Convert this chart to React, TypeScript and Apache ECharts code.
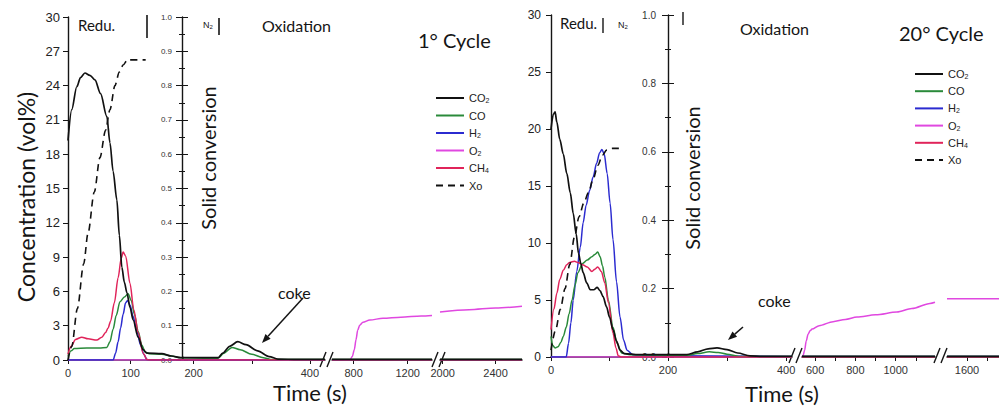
import { useEffect, useRef } from "react";
import * as echarts from "echarts";

type Pt = [number, number];

// ---------------- DATA (time s, concentration vol% / solid conversion) ----------------
// 1st cycle
const c1CO2: Pt[] = [[0,19.2],[6,21.9],[14,23.9],[20,24.7],[27,25.1],[35,24.9],[43,24.5],[52,23.3],[62,21.3],[67,19.0],[72,16.5],[78,14.0],[82,10.9],[86,8.1],[90,6.8],[94,5.9],[99,4.6],[104,3.5],[112,2.0],[120,0.9],[126,0.6],[150,0.55],[165,0.35],[180,0.2],[242,0.2],[250,0.6],[262,1.2],[276,1.6],[290,1.35],[310,0.8],[330,0.3],[345,0.08],[380,0.05],[426,0.05],[640,0.05],[1380,0.05],[1980,0.05],[2600,0.05]];
const c1CO: Pt[] = [[0,0.3],[5,0.8],[10,1.0],[30,1.05],[50,1.05],[62,1.1],[67,1.6],[72,2.7],[77,3.9],[83,5.1],[90,5.5],[96,5.8],[101,5.2],[106,4.0],[112,2.5],[118,1.3],[123,0.7],[130,0.55],[150,0.5],[165,0.35],[180,0.2],[242,0.15],[252,0.6],[266,1.1],[280,0.9],[300,0.5],[320,0.2],[332,0.05],[426,0.05],[640,0.05],[1380,0.05],[1980,0.05],[2600,0.05]];
const c1H2: Pt[] = [[0,0],[72,0],[76,0.6],[80,1.6],[84,2.8],[88,4.0],[92,5.0],[95,5.2],[99,4.8],[104,3.8],[110,2.5],[116,1.3],[121,0.5],[126,0.05],[130,0],[426,0],[640,0],[1380,0],[1980,0],[2600,0]];
const c1O2: Pt[] = [[0,0],[426,0],[640,0],[773,0],[790,0.3],[805,0.9],[818,1.8],[830,2.6],[845,3.05],[869,3.3],[920,3.5],[1017,3.65],[1150,3.75],[1300,3.85],[1380,3.9],[1980,4.2],[2200,4.4],[2400,4.55],[2600,4.7]];
const c1CH4: Pt[] = [[0,0.5],[5,1.2],[12,1.8],[22,2.0],[32,1.85],[46,1.75],[54,2.0],[60,2.4],[64,2.8],[68,3.4],[74,5.0],[80,7.2],[85,8.9],[88,9.45],[92,9.1],[99,6.7],[105,4.4],[112,2.4],[120,0.6],[126,0.05],[130,0],[426,0],[640,0],[1380,0],[1980,0],[2600,0]];
const c1Xo: Pt[] = [[0,0],[6,0.04],[15,0.15],[25,0.28],[32,0.37],[42,0.49],[51,0.59],[60,0.67],[67,0.73],[75,0.8],[82,0.84],[88,0.86],[95,0.875],[124,0.875]];

// 20th cycle
const c20CO2: Pt[] = [[0,20.0],[4,21.3],[7,21.5],[10,20.6],[15,19.1],[21,17.8],[27,16.1],[33,14.4],[38,12.6],[43,10.8],[47,9.1],[51,8.2],[55,7.4],[61,6.5],[67,5.9],[73,5.9],[79,6.1],[84,5.8],[89,5.3],[95,4.4],[100,3.5],[106,2.4],[112,1.4],[118,0.6],[125,0.3],[150,0.2],[232,0.2],[250,0.45],[268,0.72],[283,0.8],[300,0.65],[318,0.35],[339,0.1],[360,0.05],[410,0.05],[535,0.05],[1195,0.05],[1500,0.05],[1760,0.05]];
const c20CO: Pt[] = [[0,1.8],[3,1.0],[7,0.8],[12,0.9],[17,1.3],[21,1.8],[26,2.6],[31,3.8],[36,5.0],[41,6.3],[46,7.4],[54,8.2],[62,8.5],[70,8.8],[75,9.0],[80,9.2],[84,8.8],[88,8.0],[92,7.0],[98,5.0],[106,2.6],[113,1.2],[121,0.35],[135,0.2],[200,0.15],[232,0.15],[250,0.3],[270,0.45],[285,0.4],[300,0.25],[320,0.05],[410,0.05],[535,0.05],[1195,0.05],[1500,0.05],[1760,0.05]];
const c20H2: Pt[] = [[0,0],[26,0],[30,1.2],[34,3.0],[38,5.0],[44,7.5],[50,9.6],[55,11.8],[60,13.3],[66,14.6],[72,15.8],[78,17.0],[83,17.9],[87,18.2],[91,17.8],[96,16.1],[101,13.5],[106,10.3],[112,6.6],[118,3.5],[124,1.5],[130,0.6],[140,0.2],[200,0.1],[410,0.05],[535,0.05],[1195,0.05],[1500,0.05],[1760,0.05]];
const c20O2: Pt[] = [[0,0],[410,0],[535,0],[540,0.1],[548,0.6],[556,1.4],[565,2.0],[575,2.3],[585,2.45],[620,2.75],[689,3.1],[750,3.3],[808,3.5],[900,3.7],[1006,3.95],[1080,4.25],[1170,4.7],[1195,4.8],[1500,5.1],[1760,5.1]];
const c20CH4: Pt[] = [[0,2.4],[5,4.2],[10,5.6],[15,6.8],[21,7.6],[27,8.1],[32,8.3],[40,8.4],[46,8.3],[54,8.1],[62,7.9],[70,7.5],[75,7.7],[80,7.9],[86,7.5],[92,6.5],[98,4.8],[106,2.1],[111,0.8],[115,0.1],[120,0],[410,0],[535,0],[1195,0],[1500,0],[1760,0]];
const c20Xo: Pt[] = [[0,0.02],[8,0.08],[16,0.14],[24,0.2],[32,0.27],[40,0.35],[48,0.41],[56,0.45],[64,0.48],[72,0.52],[80,0.56],[88,0.59],[95,0.605],[105,0.61],[118,0.61]];

const legendNames = ["CO2", "CO", "H2", "O2", "CH4", "Xo"];

// axis ranges and tick labels (broken time axis)
const c1TimeRanges: Pt[] = [[0, 182], [180, 426], [640, 1380], [1980, 2600]];
const c1TimeLabels = [[0, 100], [200, 400], [800, 1200], [2000, 2400]];
const c1TimeTicks = [[0, 100], [200, 300, 400], [800, 1200], [2000, 2400]];
const c20TimeRanges: Pt[] = [[0, 200], [200, 410], [535, 1195], [1500, 1760]];
const c20TimeLabels = [[0], [200, 400], [600, 800, 1000], [1600]];
const c20TimeTicks = [[0, 100], [200, 300, 400], [600, 700, 800, 900, 1000, 1100], [1600, 1700]];
const c1ConcInterval = 3;
const c20ConcInterval = 5;
const c1SolidInterval = 0.1;
const c20SolidInterval = 0.2;

// ---------------- STYLE / LAYOUT ----------------
const SANS = "'Liberation Sans', Arial, sans-serif";
const TITLE = "Lato, 'Open Sans', sans-serif";
const INK = "#151515";
const colors: Record<string, string> = {
  CO2: "#111111", CO: "#2a8a3a", H2: "#2b2bd0", O2: "#e048e0", CH4: "#e0245a", Xo: "#111111",
};
const drawOrder = ["O2", "H2", "CO", "CH4", "CO2"];

const panels = [
  {
    top: 17, height: 343,
    segs: [[68, 114], [182, 143], [332, 100], [440, 82]],
    ranges: c1TimeRanges, labels: c1TimeLabels, ticks: c1TimeTicks,
    concInterval: c1ConcInterval, solidInterval: c1SolidInterval,
    concFont: 13, concMargin: 8, solidFont: 8, solidMargin: 10,
    data: { CO2: c1CO2, CO: c1CO, H2: c1H2, O2: c1O2, CH4: c1CH4 } as Record<string, Pt[]>,
    xo: c1Xo,
  },
  {
    top: 15, height: 342,
    segs: [[551, 117], [668, 124], [802, 133], [947, 52]],
    ranges: c20TimeRanges, labels: c20TimeLabels, ticks: c20TimeTicks,
    concInterval: c20ConcInterval, solidInterval: c20SolidInterval,
    concFont: 12, concMargin: 10, solidFont: 10, solidMargin: 12,
    data: { CO2: c20CO2, CO: c20CO, H2: c20H2, O2: c20O2, CH4: c20CH4 } as Record<string, Pt[]>,
    xo: c20Xo,
  },
];

// points of a series that fall in [lo, hi], plus the neighbour on each side (clipped by the grid)
function clipSeg(data: Pt[], lo: number, hi: number): Pt[] {
  let a = 0;
  for (let i = 0; i < data.length; i++) if (data[i][0] <= lo) a = i;
  let b = data.length - 1;
  for (let i = data.length - 1; i >= 0; i--) if (data[i][0] >= hi) b = i;
  return data.slice(a, b + 1);
}

const legendText: Record<string, string> = {
  CO2: "CO{s|2}", CO: "CO", H2: "H{s|2}", O2: "O{s|2}", CH4: "CH{s|4}", Xo: "Xo",
};

function arrow(x1: number, y1: number, x2: number, y2: number) {
  const dx = x2 - x1, dy = y2 - y1, len = Math.hypot(dx, dy);
  const ux = dx / len, uy = dy / len;
  const bx = x2 - ux * 9, by = y2 - uy * 9;
  const px = -uy * 3.5, py = ux * 3.5;
  return [
    { type: "line", shape: { x1, y1, x2: bx, y2: by }, style: { stroke: INK, lineWidth: 1.5 } },
    { type: "polygon", shape: { points: [[x2, y2], [bx + px, by + py], [bx - px, by - py]] }, style: { fill: INK } },
  ];
}

function slash(x: number, yb: number) {
  return [0, 7].map((o) => ({
    type: "line",
    shape: { x1: x + o, y1: yb + 7, x2: x + o + 6, y2: yb - 8 },
    style: { stroke: INK, lineWidth: 1.4 },
  }));
}

function txt(text: string, x: number, y: number, size: number, opts: any = {}) {
  return {
    type: "text",
    x, y,
    rotation: opts.rotation || 0,
    style: {
      text,
      fill: INK,
      font: `${size}px ${opts.family || TITLE}`,
      align: opts.align || "left",
      textAlign: opts.align || "left",
      verticalAlign: "middle",
      textVerticalAlign: "middle",
      rich: opts.rich,
    },
  };
}

function buildOption() {
  const grid: any[] = [];
  const xAxis: any[] = [];
  const yAxis: any[] = [];
  const series: any[] = [];

  panels.forEach((pn) => {
    pn.segs.forEach((sg, si) => {
      const gi = grid.length;
      grid.push({ left: sg[0], width: sg[1], top: pn.top, height: pn.height });
      xAxis.push({
        type: "value", gridIndex: gi, min: pn.ranges[si][0], max: pn.ranges[si][1],
        axisLine: { show: true, onZero: false, lineStyle: { color: INK, width: 1.5 } },
        axisTick: { show: true, customValues: pn.ticks[si], length: 4, lineStyle: { color: INK } },
        axisLabel: {
          customValues: pn.labels[si], fontSize: 11, fontFamily: SANS, color: "#333", margin: 7,
          formatter: (v: number) => String(v),
        },
        splitLine: { show: false },
      });
      const yc = yAxis.length;
      yAxis.push({
        type: "value", gridIndex: gi, min: 0, max: 30, interval: pn.concInterval, show: si === 0,
        position: "left",
        axisLine: { show: true, lineStyle: { color: INK, width: 1.4 } },
        axisTick: { show: true, length: 5, lineStyle: { color: INK } },
        axisLabel: { fontSize: pn.concFont, fontFamily: SANS, color: "#222", margin: pn.concMargin },
        splitLine: { show: false },
      });
      let ys = -1;
      if (si <= 1) {
        ys = yAxis.length;
        yAxis.push({
          type: "value", gridIndex: gi, min: 0, max: 1, interval: pn.solidInterval, show: si === 1,
          position: "left",
          axisLine: { show: true, lineStyle: { color: INK, width: 1.4 } },
          axisTick: { show: true, length: 6, lineStyle: { color: INK } },
          minorTick: { show: true, splitNumber: 2, length: 3, lineStyle: { color: INK } },
          axisLabel: {
            fontSize: pn.solidFont, fontFamily: SANS, color: "#333", margin: pn.solidMargin,
            formatter: (v: number) => v.toFixed(1),
          },
          splitLine: { show: false },
        });
        if (si === 1) {
          yAxis.push({
            type: "value", gridIndex: gi, min: 0, max: 1, interval: pn.solidInterval, position: "left",
            axisLine: { show: false },
            axisTick: { show: true, inside: true, length: 6, lineStyle: { color: INK } },
            minorTick: { show: true, splitNumber: 2, length: 3, lineStyle: { color: INK } },
            axisLabel: { show: false },
            splitLine: { show: false },
          });
        }
      }
      drawOrder.forEach((name) => {
        series.push({
          type: "line", name, xAxisIndex: gi, yAxisIndex: yc,
          data: clipSeg(pn.data[name], pn.ranges[si][0], pn.ranges[si][1]),
          symbol: "none", smooth: 0.3, smoothMonotone: "x", silent: true,
          lineStyle: { color: colors[name], width: name === "CO2" ? 1.7 : 1.5 },
          itemStyle: { color: colors[name] },
        });
      });
      if (si === 0) {
        series.push({
          type: "line", name: "Xo", xAxisIndex: gi, yAxisIndex: ys, data: pn.xo,
          symbol: "none", smooth: 0.3, smoothMonotone: "x", silent: true,
          lineStyle: { color: colors.Xo, width: 1.6, type: [7, 5] },
          itemStyle: { color: colors.Xo },
        });
      }
    });
  });

  const legendCommon = {
    orient: "vertical", itemWidth: 28, itemHeight: 10, selectedMode: false,
    data: legendNames,
    itemStyle: { opacity: 0 },
    formatter: (n: string) => legendText[n],
    textStyle: {
      fontFamily: SANS, fontSize: 11, color: "#222", lineHeight: 12,
      rich: { s: { fontFamily: SANS, fontSize: 7, color: "#222", verticalAlign: "bottom", lineHeight: 8 } },
    },
  };

  const sub = { s: { fontFamily: SANS, fontSize: 6, fill: INK, verticalAlign: "bottom", lineHeight: 6 } };

  const graphic: any[] = [
    // left panel annotations
    txt("Redu.", 78, 25, 15),
    { type: "line", shape: { x1: 147, y1: 15, x2: 147, y2: 38 }, style: { stroke: INK, lineWidth: 1.6 } },
    txt("N{s|2}", 203, 25, 9, { family: SANS, rich: sub }),
    { type: "line", shape: { x1: 219, y1: 18, x2: 219, y2: 35 }, style: { stroke: INK, lineWidth: 1.6 } },
    txt("Oxidation", 262, 25, 16),
    txt("1° Cycle", 418, 40, 20),
    txt("coke", 278, 292, 16),
    ...arrow(303, 298, 262, 343),
    txt("Concentration (vol%)", 26, 197, 23, { align: "center", rotation: Math.PI / 2 }),
    txt("Solid conversion", 208, 158, 20, { align: "center", rotation: Math.PI / 2 }),
    txt("Time (s)", 310, 392, 22, { align: "center" }),
    ...slash(320, 360),
    ...slash(432, 360),
    // right panel annotations
    txt("Redu.", 560, 23, 15),
    { type: "line", shape: { x1: 603, y1: 18, x2: 603, y2: 33 }, style: { stroke: INK, lineWidth: 1.4 } },
    txt("N{s|2}", 618, 25, 9, { family: SANS, rich: sub }),
    { type: "line", shape: { x1: 683, y1: 12, x2: 683, y2: 25 }, style: { stroke: INK, lineWidth: 1.4 } },
    txt("Oxidation", 740, 28, 16),
    txt("20° Cycle", 899, 33, 20),
    txt("coke", 758, 300, 16),
    ...arrow(743, 327, 728, 340),
    txt("Solid conversion", 692, 178, 20, { align: "center", rotation: Math.PI / 2 }),
    txt("Time (s)", 782, 393, 22, { align: "center" }),
    ...slash(789, 356),
    ...slash(934, 356),
  ];

  return {
    animation: false,
    backgroundColor: "#ffffff",
    grid, xAxis, yAxis, series,
    legend: [
      { ...legendCommon, left: 430, top: 87, itemGap: 5.5 },
      { ...legendCommon, left: 909, top: 63, itemGap: 5.2 },
    ],
    graphic,
  };
}

export default function App() {
  const ref = useRef<HTMLDivElement>(null);
  useEffect(() => {
    if (!ref.current) return;
    const chart = echarts.init(ref.current, undefined, { renderer: "svg" });
    chart.setOption(buildOption() as any);
    return () => chart.dispose();
  }, []);
  return (
    <div
      ref={ref}
      style={{ position: "fixed", left: 0, top: 0, width: 999, height: 408, background: "#fff" }}
    />
  );
}
